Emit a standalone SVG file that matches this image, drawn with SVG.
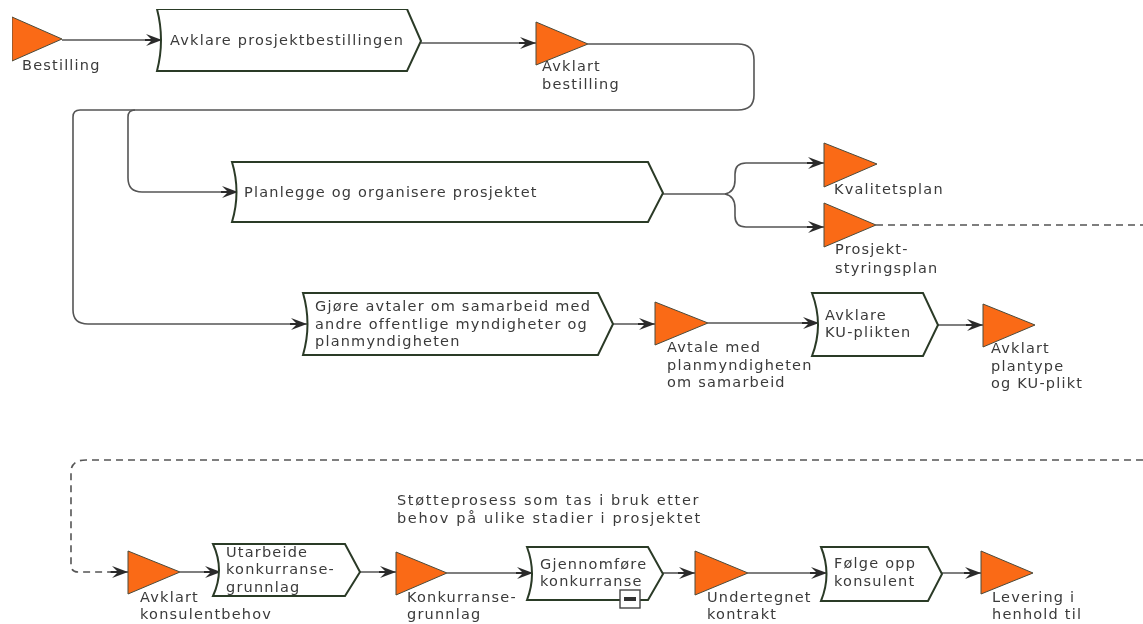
<svg xmlns="http://www.w3.org/2000/svg" width="1143" height="624" viewBox="0 0 1143 624">
<style>
text{font-family:"DejaVu Sans",sans-serif;font-size:14.5px;fill:#3a3a3a;letter-spacing:1.2px}
.w{letter-spacing:1.65px}
.e{fill:#fa6a18;stroke:#4a4a3a;stroke-width:1}
.p{fill:#fff;stroke:#2c3a28;stroke-width:2}
.c{fill:none;stroke:#555;stroke-width:1.6}
.a{marker-end:url(#arr)}
.d{stroke-dasharray:7 5}
</style>
<defs>
<marker id="arr" markerUnits="userSpaceOnUse" markerWidth="20" markerHeight="14" refX="17" refY="6" orient="auto"><path d="M17,6 L1,0 L6,5 L0,5 L0,7 L6,7 L1,12 Z" fill="#2c2c2c"/></marker>
<filter id="soft" x="0" y="0" width="100%" height="100%"><feGaussianBlur stdDeviation="0.45"/></filter>
</defs>
<rect width="1143" height="624" fill="#fff"/>
<g filter="url(#soft)">
<g id="connectors">
<path class="c a" d="M62,40H162"/>
<path class="c a" d="M421,43H536"/>
<path class="c" d="M588,44H738Q754,44 754,60V95Q754,110 738,110H80Q73,110 73,117V310Q73,324 88,324H150"/>
<path class="c a" d="M150,324H307"/>
<path class="c" d="M135,110Q128,110 128,117V178Q128,192 142,192"/>
<path class="c a" d="M142,192H238"/>
<path class="c" d="M663,194H725"/>
<path class="c a" d="M725,194Q735,192 735,180V174Q735,163 746,163H824"/>
<path class="c a" d="M725,194Q735,196 735,208V216Q735,227 746,227H824"/>
<path class="c d" d="M876,225H1143"/>
<path class="c a" d="M613,324H655"/>
<path class="c a" d="M708,323H819"/>
<path class="c a" d="M938,325H983"/>
<path class="c d" d="M1143,460H86Q71,460 71,472V565Q71,572 78,572H112"/>
<path class="c a" d="M110,572H128"/>
<path class="c a" d="M180,572H221"/>
<path class="c a" d="M360,572H396"/>
<path class="c a" d="M447,573H533"/>
<path class="c a" d="M663,573H695"/>
<path class="c a" d="M748,573H827"/>
<path class="c a" d="M942,573H981"/>
</g>
<g id="n-bestilling"><path class="e" d="M12,17L62,39L12,61Z"/><text x="22" y="70">Bestilling</text></g>
<g id="n-avklare-bestilling"><path class="p" d="M157,9H407L421,41L407,71H157Q165,40 157,9Z"/><text x="170" y="45">Avklare prosjektbestillingen</text></g>
<g id="n-avklart-bestilling"><path class="e" d="M536,22L588,44L536,65Z"/><text x="542" y="71">Avklart</text><text x="542" y="89">bestilling</text></g>
<g id="n-planlegge"><path class="p" d="M232,162H648L663,193L648,222H232Q241,192 232,162Z"/><text x="244" y="197">Planlegge og organisere prosjektet</text></g>
<g id="n-kvalitetsplan"><path class="e" d="M824,143L877,164L824,187Z"/><text x="834" y="194">Kvalitetsplan</text></g>
<g id="n-prosjektstyringsplan"><path class="e" d="M824,203L876,225L824,247Z"/><text x="835" y="254">Prosjekt-</text><text x="835" y="273">styringsplan</text></g>
<g id="n-gjore-avtaler"><path class="p" d="M303,293H598L613,324L598,355H303Q312,324 303,293Z"/><text x="315" y="311">Gjøre avtaler om samarbeid med</text><text x="315" y="329">andre offentlige myndigheter og</text><text x="315" y="346">planmyndigheten</text></g>
<g id="n-avtale"><path class="e" d="M655,302L708,323L655,345Z"/><text x="667" y="352">Avtale med</text><text x="667" y="370">planmyndigheten</text><text x="667" y="387">om samarbeid</text></g>
<g id="n-avklare-ku"><path class="p" d="M812,293H923L938,325L923,356H812Q824,325 812,293Z"/><text x="825" y="320">Avklare</text><text x="825" y="337">KU-plikten</text></g>
<g id="n-avklart-plantype"><path class="e" d="M983,304L1035,325L983,347Z"/><text x="991" y="353">Avklart</text><text x="991" y="371">plantype</text><text x="991" y="388">og KU-plikt</text></g>
<g id="n-avklart-konsulent"><path class="e" d="M128,551L180,572L128,594Z"/><text x="140" y="602">Avklart</text><text x="140" y="619">konsulentbehov</text></g>
<g id="n-utarbeide"><path class="p" d="M213,544H345L360,572L345,596H213Q225,570 213,544Z"/><text x="226" y="557">Utarbeide</text><text x="226" y="574">konkurranse-</text><text x="226" y="592">grunnlag</text></g>
<g id="n-konkurransegrunnlag"><path class="e" d="M396,552L447,573L396,595Z"/><text x="407" y="602">Konkurranse-</text><text x="407" y="619">grunnlag</text></g>
<g id="n-stotteprosess"><text class="w" x="397" y="505">Støtteprosess som tas i bruk etter</text><text class="w" x="397" y="523">behov på ulike stadier i prosjektet</text></g>
<g id="n-gjennomfore"><path class="p" d="M527,547H648L663,574L648,600H527Q537,574 527,547Z"/><text x="540" y="569">Gjennomføre</text><text x="540" y="586">konkurranse</text><rect x="620" y="590" width="20" height="18" fill="#fff" stroke="#444" stroke-width="1.4"/><rect x="624" y="597" width="12" height="4" fill="#333"/></g>
<g id="n-undertegnet"><path class="e" d="M695,551L748,573L695,595Z"/><text x="707" y="602">Undertegnet</text><text x="707" y="619">kontrakt</text></g>
<g id="n-folge-opp"><path class="p" d="M821,547H928L942,574L928,601H821Q832,574 821,547Z"/><text x="834" y="568">Følge opp</text><text x="834" y="586">konsulent</text></g>
<g id="n-levering"><path class="e" d="M981,551L1033,573L981,594Z"/><text x="992" y="602">Levering i</text><text x="992" y="619">henhold til</text></g>
</g>
</svg>
